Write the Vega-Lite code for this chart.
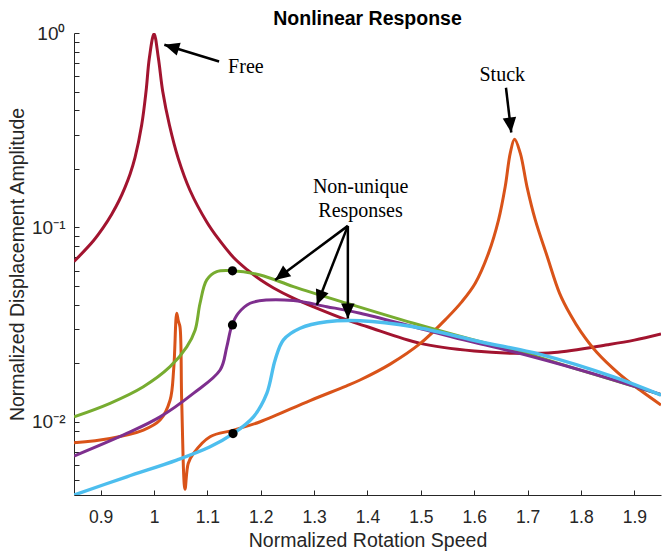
{
  "$schema": "https://vega.github.io/schema/vega-lite/v6.json",
  "width": 587,
  "height": 462,
  "autosize": "none",
  "padding": {"left": 74, "top": 33, "right": 2, "bottom": 59},
  "background": "white",
  "title": {"text": "Nonlinear Response", "font": "Liberation Sans", "fontSize": 19.5, "fontWeight": "bold", "color": "#000000", "offset": -5, "anchor": "middle"},
  "config": {
    "view": {"stroke": null},
    "axis": {
      "grid": false,
      "domainColor": "#262626",
      "domainWidth": 1,
      "tickColor": "#262626",
      "tickWidth": 1,
      "tickSize": -5,
      "labelFont": "Liberation Sans",
      "labelFontSize": 17.5,
      "labelColor": "#262626",
      "titleFont": "Liberation Sans",
      "titleFontSize": 19.5,
      "titleFontWeight": "normal",
      "titleColor": "#262626",
      "labelOverlap": false,
      "labelFlush": false
    }
  },
  "datasets": {
    "curves": [
      {"s": "free", "x": 0.85, "y": 0.0667},
      {"s": "free", "x": 0.886, "y": 0.0851},
      {"s": "free", "x": 0.905, "y": 0.1},
      {"s": "free", "x": 0.9207, "y": 0.1169},
      {"s": "free", "x": 0.935, "y": 0.1383},
      {"s": "free", "x": 0.9456, "y": 0.1607},
      {"s": "free", "x": 0.955, "y": 0.1875},
      {"s": "free", "x": 0.9644, "y": 0.229},
      {"s": "free", "x": 0.9769, "y": 0.337},
      {"s": "free", "x": 0.985, "y": 0.5004},
      {"s": "free", "x": 0.9912, "y": 0.7434},
      {"s": "free", "x": 1.0, "y": 0.99},
      {"s": "free", "x": 1.0081, "y": 0.7434},
      {"s": "free", "x": 1.0163, "y": 0.5004},
      {"s": "free", "x": 1.0287, "y": 0.3372},
      {"s": "free", "x": 1.0456, "y": 0.2251},
      {"s": "free", "x": 1.0675, "y": 0.1548},
      {"s": "free", "x": 1.0988, "y": 0.1066},
      {"s": "free", "x": 1.12, "y": 0.0877},
      {"s": "free", "x": 1.149, "y": 0.07},
      {"s": "free", "x": 1.175, "y": 0.0604},
      {"s": "free", "x": 1.2, "y": 0.0536},
      {"s": "free", "x": 1.224, "y": 0.0488},
      {"s": "free", "x": 1.26, "y": 0.0434},
      {"s": "free", "x": 1.299, "y": 0.039},
      {"s": "free", "x": 1.361, "y": 0.0334},
      {"s": "free", "x": 1.4, "y": 0.0308},
      {"s": "free", "x": 1.499, "y": 0.0253},
      {"s": "free", "x": 1.6, "y": 0.0231},
      {"s": "free", "x": 1.674, "y": 0.0225},
      {"s": "free", "x": 1.75, "y": 0.0227},
      {"s": "free", "x": 1.85, "y": 0.0249},
      {"s": "free", "x": 1.9, "y": 0.0263},
      {"s": "free", "x": 1.95, "y": 0.0283},

      {"s": "stuck", "x": 0.85, "y": 0.0078},
      {"s": "stuck", "x": 0.9175, "y": 0.00821},
      {"s": "stuck", "x": 0.98, "y": 0.00906},
      {"s": "stuck", "x": 1.0113, "y": 0.0102},
      {"s": "stuck", "x": 1.03, "y": 0.0129},
      {"s": "stuck", "x": 1.037, "y": 0.019},
      {"s": "stuck", "x": 1.0425, "y": 0.0362},
      {"s": "stuck", "x": 1.0455, "y": 0.033},
      {"s": "stuck", "x": 1.0486, "y": 0.0308},
      {"s": "stuck", "x": 1.0518, "y": 0.0129},
      {"s": "stuck", "x": 1.058, "y": 0.0045},
      {"s": "stuck", "x": 1.064, "y": 0.0061},
      {"s": "stuck", "x": 1.074, "y": 0.00688},
      {"s": "stuck", "x": 1.105, "y": 0.00838},
      {"s": "stuck", "x": 1.149, "y": 0.00906},
      {"s": "stuck", "x": 1.199, "y": 0.01},
      {"s": "stuck", "x": 1.2925, "y": 0.01286},
      {"s": "stuck", "x": 1.36, "y": 0.01527},
      {"s": "stuck", "x": 1.386, "y": 0.0164},
      {"s": "stuck", "x": 1.4425, "y": 0.0198},
      {"s": "stuck", "x": 1.499, "y": 0.0253},
      {"s": "stuck", "x": 1.549, "y": 0.0342},
      {"s": "stuck", "x": 1.577, "y": 0.0415},
      {"s": "stuck", "x": 1.6019, "y": 0.0516},
      {"s": "stuck", "x": 1.6268, "y": 0.0737},
      {"s": "stuck", "x": 1.6456, "y": 0.1093},
      {"s": "stuck", "x": 1.6581, "y": 0.1622},
      {"s": "stuck", "x": 1.6675, "y": 0.241},
      {"s": "stuck", "x": 1.6756, "y": 0.284},
      {"s": "stuck", "x": 1.6863, "y": 0.241},
      {"s": "stuck", "x": 1.6988, "y": 0.1622},
      {"s": "stuck", "x": 1.7144, "y": 0.1093},
      {"s": "stuck", "x": 1.7363, "y": 0.0715},
      {"s": "stuck", "x": 1.76, "y": 0.0458},
      {"s": "stuck", "x": 1.78, "y": 0.0356},
      {"s": "stuck", "x": 1.8, "y": 0.029},
      {"s": "stuck", "x": 1.83, "y": 0.0227},
      {"s": "stuck", "x": 1.87, "y": 0.0178},
      {"s": "stuck", "x": 1.91, "y": 0.0146},
      {"s": "stuck", "x": 1.95, "y": 0.0122},

      {"s": "green", "x": 0.85, "y": 0.0106},
      {"s": "green", "x": 0.9175, "y": 0.01245},
      {"s": "green", "x": 0.98, "y": 0.01515},
      {"s": "green", "x": 1.03, "y": 0.0192},
      {"s": "green", "x": 1.0613, "y": 0.0243},
      {"s": "green", "x": 1.0769, "y": 0.0296},
      {"s": "green", "x": 1.0862, "y": 0.0407},
      {"s": "green", "x": 1.0988, "y": 0.0537},
      {"s": "green", "x": 1.1175, "y": 0.0592},
      {"s": "green", "x": 1.1457, "y": 0.0599},
      {"s": "green", "x": 1.1988, "y": 0.0569},
      {"s": "green", "x": 1.2612, "y": 0.0496},
      {"s": "green", "x": 1.3613, "y": 0.0407},
      {"s": "green", "x": 1.4862, "y": 0.0321},
      {"s": "green", "x": 1.6113, "y": 0.0258},
      {"s": "green", "x": 1.6737, "y": 0.0234},
      {"s": "green", "x": 1.7988, "y": 0.01845},
      {"s": "green", "x": 1.95, "y": 0.0138},

      {"s": "purple", "x": 0.85, "y": 0.00666},
      {"s": "purple", "x": 0.9488, "y": 0.00871},
      {"s": "purple", "x": 1.0113, "y": 0.0106},
      {"s": "purple", "x": 1.0737, "y": 0.014},
      {"s": "purple", "x": 1.1238, "y": 0.01845},
      {"s": "purple", "x": 1.1363, "y": 0.0243},
      {"s": "purple", "x": 1.1457, "y": 0.0312},
      {"s": "purple", "x": 1.158, "y": 0.0362},
      {"s": "purple", "x": 1.18, "y": 0.0407},
      {"s": "purple", "x": 1.2113, "y": 0.0423},
      {"s": "purple", "x": 1.2612, "y": 0.042},
      {"s": "purple", "x": 1.3238, "y": 0.0391},
      {"s": "purple", "x": 1.3863, "y": 0.0362},
      {"s": "purple", "x": 1.4862, "y": 0.0308},
      {"s": "purple", "x": 1.58, "y": 0.0264},
      {"s": "purple", "x": 1.6737, "y": 0.0229},
      {"s": "purple", "x": 1.7988, "y": 0.01845},
      {"s": "purple", "x": 1.95, "y": 0.0138},

      {"s": "blue", "x": 0.85, "y": 0.0042},
      {"s": "blue", "x": 0.9488, "y": 0.00521},
      {"s": "blue", "x": 1.0425, "y": 0.00635},
      {"s": "blue", "x": 1.105, "y": 0.00743},
      {"s": "blue", "x": 1.1488, "y": 0.00871},
      {"s": "blue", "x": 1.1863, "y": 0.0106},
      {"s": "blue", "x": 1.2113, "y": 0.014},
      {"s": "blue", "x": 1.2269, "y": 0.0208},
      {"s": "blue", "x": 1.2425, "y": 0.0264},
      {"s": "blue", "x": 1.2738, "y": 0.0303},
      {"s": "blue", "x": 1.3238, "y": 0.0327},
      {"s": "blue", "x": 1.3863, "y": 0.0331},
      {"s": "blue", "x": 1.4862, "y": 0.0308},
      {"s": "blue", "x": 1.6113, "y": 0.0258},
      {"s": "blue", "x": 1.7238, "y": 0.0222},
      {"s": "blue", "x": 1.8612, "y": 0.017},
      {"s": "blue", "x": 1.95, "y": 0.0137}
    ],
    "arrows": [
      {"id": "free", "x": 1.1219, "y": 0.714, "x2": 1.0193, "y2": 0.8706},
      {"id": "stuck", "x": 1.6595, "y": 0.5228, "x2": 1.6694, "y2": 0.3077},
      {"id": "nu1", "x": 1.3632, "y": 0.1018, "x2": 1.2269, "y2": 0.05366},
      {"id": "nu2", "x": 1.3632, "y": 0.1018, "x2": 1.3051, "y2": 0.0399},
      {"id": "nu3", "x": 1.3632, "y": 0.1018, "x2": 1.3632, "y2": 0.034}
    ],
    "dots": [
      {"x": 1.147, "y": 0.0598},
      {"x": 1.147, "y": 0.0315},
      {"x": 1.148, "y": 0.0087}
    ],
    "notes": [
      {"t": "Free", "x": 1.1721, "y": 0.6245},
      {"t": "Stuck", "x": 1.6525, "y": 0.5632},
      {"t": "Non-unique", "x": 1.3872, "y": 0.1505},
      {"t": "Responses", "x": 1.3869, "y": 0.1132}
    ]
  },
  "encoding": {
    "x": {
      "field": "x", "type": "quantitative",
      "scale": {"domain": [0.85, 1.95], "nice": false, "zero": false},
      "axis": {"title": "Normalized Rotation Speed", "values": [0.9, 1, 1.1, 1.2, 1.3, 1.4, 1.5, 1.6, 1.7, 1.8, 1.9], "format": "~g", "labelPadding": 18, "titlePadding": 6}
    },
    "y": {
      "field": "y", "type": "quantitative",
      "scale": {"type": "log", "domain": [0.0042, 1], "nice": false},
      "axis": {
        "title": "Normalized Displacement Amplitude",
        "values": [0.005, 0.006, 0.007, 0.008, 0.009, 0.01, 0.02, 0.03, 0.04, 0.05, 0.06, 0.07, 0.08, 0.09, 0.1, 0.2, 0.3, 0.4, 0.5, 0.6, 0.7, 0.8, 0.9, 1],
        "labelExpr": "datum.value == 1 ? '10⁰' : datum.value == 0.1 ? '10⁻¹' : datum.value == 0.01 ? '10⁻²' : ''",
        "labelFontSize": 19,
        "labelPadding": 14,
        "titlePadding": 4
      }
    }
  },
  "layer": [
    {"data": {"name": "curves"}, "transform": [{"filter": "datum.s == 'free'"}], "mark": {"type": "line", "color": "#A2142F", "strokeWidth": 3, "interpolate": "catmull-rom", "clip": true}},
    {"data": {"name": "curves"}, "transform": [{"filter": "datum.s == 'stuck'"}], "mark": {"type": "line", "color": "#D95319", "strokeWidth": 3, "interpolate": "catmull-rom", "clip": true}},
    {"data": {"name": "curves"}, "transform": [{"filter": "datum.s == 'green'"}], "mark": {"type": "line", "color": "#77AC30", "strokeWidth": 3, "interpolate": "catmull-rom", "clip": true}},
    {"data": {"name": "curves"}, "transform": [{"filter": "datum.s == 'purple'"}], "mark": {"type": "line", "color": "#7E2F8E", "strokeWidth": 3, "interpolate": "catmull-rom", "clip": true}},
    {"data": {"name": "curves"}, "transform": [{"filter": "datum.s == 'blue'"}], "mark": {"type": "line", "color": "#4DBEEE", "strokeWidth": 3.4, "interpolate": "catmull-rom", "clip": true}},
    {"data": {"name": "arrows"}, "mark": {"type": "rule", "color": "#000000", "strokeWidth": 2.5}, "encoding": {"x2": {"field": "x2"}, "y2": {"field": "y2"}}},
    {"data": {"name": "arrows"}, "transform": [{"filter": "datum.id == 'free'"}], "mark": {"type": "point", "shape": "M0,0L-0.45,1L0.45,1Z", "filled": true, "color": "#000000", "opacity": 1, "size": 900, "angle": 287, "strokeWidth": 0}, "encoding": {"x": {"field": "x2", "type": "quantitative"}, "y": {"field": "y2", "type": "quantitative"}}},
    {"data": {"name": "arrows"}, "transform": [{"filter": "datum.id == 'stuck'"}], "mark": {"type": "point", "shape": "M0,0L-0.45,1L0.45,1Z", "filled": true, "color": "#000000", "opacity": 1, "size": 900, "angle": 173, "strokeWidth": 0}, "encoding": {"x": {"field": "x2", "type": "quantitative"}, "y": {"field": "y2", "type": "quantitative"}}},
    {"data": {"name": "arrows"}, "transform": [{"filter": "datum.id == 'nu1'"}], "mark": {"type": "point", "shape": "M0,0L-0.45,1L0.45,1Z", "filled": true, "color": "#000000", "opacity": 1, "size": 900, "angle": 233, "strokeWidth": 0}, "encoding": {"x": {"field": "x2", "type": "quantitative"}, "y": {"field": "y2", "type": "quantitative"}}},
    {"data": {"name": "arrows"}, "transform": [{"filter": "datum.id == 'nu2'"}], "mark": {"type": "point", "shape": "M0,0L-0.45,1L0.45,1Z", "filled": true, "color": "#000000", "opacity": 1, "size": 900, "angle": 201, "strokeWidth": 0}, "encoding": {"x": {"field": "x2", "type": "quantitative"}, "y": {"field": "y2", "type": "quantitative"}}},
    {"data": {"name": "arrows"}, "transform": [{"filter": "datum.id == 'nu3'"}], "mark": {"type": "point", "shape": "M0,0L-0.45,1L0.45,1Z", "filled": true, "color": "#000000", "opacity": 1, "size": 900, "angle": 180, "strokeWidth": 0}, "encoding": {"x": {"field": "x2", "type": "quantitative"}, "y": {"field": "y2", "type": "quantitative"}}},
    {"data": {"name": "dots"}, "mark": {"type": "point", "shape": "circle", "filled": true, "color": "#000000", "opacity": 1, "size": 85}},
    {"data": {"name": "notes"}, "mark": {"type": "text", "font": "Liberation Serif", "fontSize": 20, "color": "#000000", "align": "center", "baseline": "alphabetic"}, "encoding": {"text": {"field": "t"}}}
  ]
}
